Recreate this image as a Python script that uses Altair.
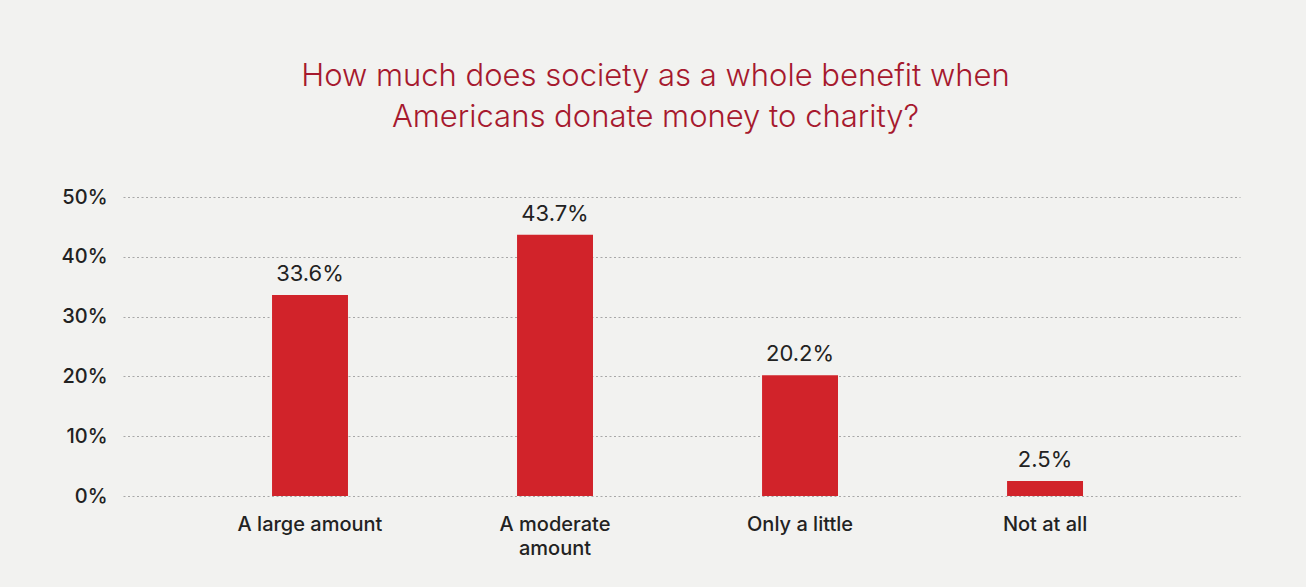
import altair as alt
import pandas as pd

categories = ["A large amount", "A moderate|amount", "Only a little", "Not at all"]
values = [33.6, 43.7, 20.2, 2.5]
labels = ["33.6%", "43.7%", "20.2%", "2.5%"]
y_ticks = [0, 10, 20, 30, 40, 50]

df = pd.DataFrame({"cat": categories, "val": values, "lab": labels})

BG = "#f2f2f0"
RED = "#d1232a"
TITLE_RED = "#a6192e"
TXT = "#222222"
FONT = "Inter"

x = alt.X(
    "cat:N",
    sort=None,
    scale=alt.Scale(paddingInner=0.69, paddingOuter=0.6245, align=0.487),
    axis=alt.Axis(
        title=None,
        labelAngle=0,
        labelExpr="split(datum.label, '|')",
        labelFont=FONT,
        labelFontSize=20,
        labelFontWeight=500,
        labelColor=TXT,
        labelPadding=18,
        labelLineHeight=24,
        labelBaseline="top",
        domain=False,
        ticks=False,
        grid=False,
    ),
)

y = alt.Y(
    "val:Q",
    scale=alt.Scale(domain=[0, 50], nice=False),
    axis=alt.Axis(
        title=None,
        values=y_ticks,
        labelExpr="datum.value + '%'",
        labelFont=FONT,
        labelFontSize=20,
        labelFontWeight=500,
        labelColor=TXT,
        labelPadding=16,
        domain=False,
        ticks=False,
        grid=True,
        gridColor="#a8a8a8",
        gridDash=[2, 2.5],
        gridWidth=1.2,
    ),
)

base = alt.Chart(df)

bars = base.mark_bar(color=RED).encode(x=x, y=y)

text = base.mark_text(
    baseline="alphabetic",
    dy=-14,
    font=FONT,
    fontSize=22,
    fontWeight=400,
    color=TXT,
).encode(x=alt.X("cat:N", sort=None), y="val:Q", text="lab:N")

chart = (
    alt.layer(bars, text)
    .properties(
        width=1117,
        height=299,
        autosize=alt.AutoSizeParams(type="none"),
        padding={"left": 123, "top": 197, "right": 66, "bottom": 91},
        background=BG,
        title=alt.TitleParams(
            text=["How much does society as a whole benefit when", "Americans donate money to charity?"],
            font=FONT,
            fontSize=31,
            fontWeight=300,
            color=TITLE_RED,
            lineHeight=41,
            anchor="middle",
            dx=-26,
            offset=53,
        ),
    )
    .configure_view(stroke=None)
)

chart.save("out.html", embed_options={"renderer": "svg", "actions": False})
